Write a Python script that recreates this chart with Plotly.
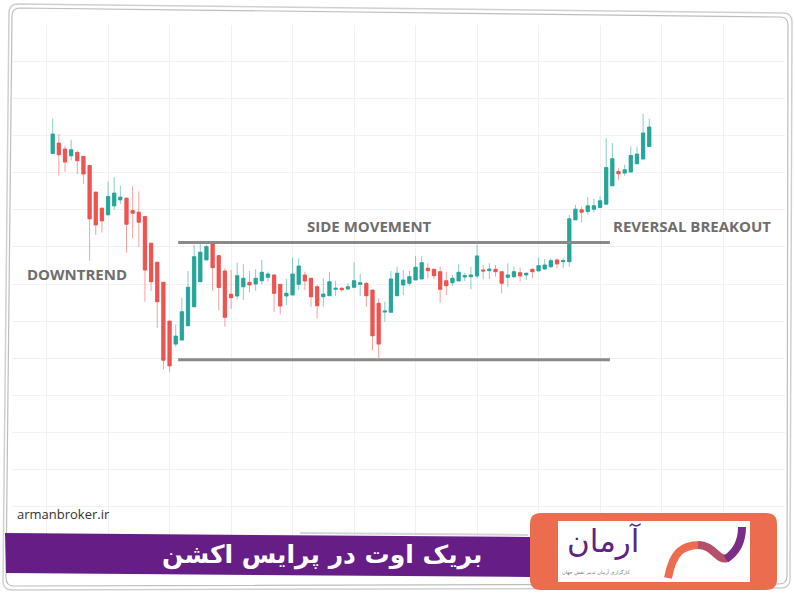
import plotly.graph_objects as go

# ---- data (price units) ----
open_ = [346.3,356.7,350.7,344,347.3,343.3,334.3,307.7,291.7,285,294,300,301.7,289.3,287.7,283.3,256.7,237.7,217.7,179,
         156,160,174.3,193.3,218.3,240,256,244.3,229,205.7,204,213.3,217.7,216,219.3,222.7,225,215.7,204,205,
         215.7,225,221.7,213.3,203.3,204.3,210.7,211.7,211,212.7,215.7,216.7,210,196.7,188,187.7,204.3,215,216.7,220,
         221,231.7,230.7,228.3,219.3,217.3,219,223,223.3,224,230,229.3,230.7,228.3,222.7,223.3,227.3,225,230.7,229,
         231,233.3,240,238.3,238.3,280,290,288.3,290.7,292.3,295.7,314,328.3,326.7,327.7,336,340.7,353.3]
high = [381,365.7,354,360,349.3,344,335,308,292,318.3,322.7,314,302,313.3,308.3,284,257,238,218,179,
        175.7,202.3,229,255,255.7,255,257.7,245,231.7,230,237.3,235.7,229,230.7,240,228.3,225.5,216,221,242.7,
        241.7,228.3,222,215,221.7,228,219.3,213.3,216.7,237.7,226,217.7,210,201.7,198.3,229,233.3,230,229,244,
        244,236.7,231,233.3,228.3,225,235.7,227,233.3,255,235,236.7,235,228.5,236.7,233.3,232.3,227.5,231.5,242.3,
        241,241.7,241.7,242,285,295,293.3,302.7,301,303.3,361.7,356.7,331.7,335,353.3,353.3,386,381]
low = [346,324.3,328,339.3,325.7,316,239.3,265,267.3,285,290,296,247.3,261.7,253.3,198.3,209,172.3,130.7,128.3,
       153.3,160,174.3,193.3,218.3,240,209.3,190,173.3,191,200.7,200,207.7,209.3,215.7,218.3,188.3,185.7,195,205,
       210,210,193.3,181.7,193.3,204,204,208.3,210,211.7,204,193.3,150,142.3,178.3,187.7,204.3,205,214.3,220,
       221,221.7,220.7,197.3,205,214,219,219,210.7,221.7,220.7,221,223.3,206.7,213.3,221.7,218.3,220,221.7,229,
       230,231.7,231.7,231.7,233.3,280,277.3,285,287.3,292.3,295.7,314,320,324,327.7,336,340.7,353.3]
close = [365.7,345,337.7,350,339,325.7,281,275,279,303.3,306.7,302.7,275.7,286.7,277.7,230,218.3,198.3,140,134.3,
         164,188.3,212.7,243.3,247.7,253.3,232.3,212.5,182.7,202.3,224.3,221.7,215,221.7,227.7,226,206.7,194,206.7,226,
         234,219,203.3,194.3,206,218.3,211.7,210.3,213.3,219.3,217.3,204.3,164.3,156,189,221,226.7,220,223.3,232.7,
         237.3,229.3,224.3,210.7,214.3,221.7,227.7,224.3,225,244,229,231,228.3,216.7,225,228.3,224,226.7,228.3,234.3,
         235,239.3,236,239.3,281,290.7,287.7,294,294,299,332.3,341,326,330,344.3,345.7,366.7,372.7]
idx = list(range(len(open_)))

labels = ["DOWNTREND", "SIDE MOVEMENT", "REVERSAL BREAKOUT"]
resistance, support = 257.3, 140.3
range_start, range_end = 20.4, 90.6
title_fa = "بریک اوت در پرایس اکشن"
brand_fa = "آرمان"
brand_sub_fa = "کارگزاری آرمان تدبیر نقش جهان"
site = "armanbroker.ir"

GREEN, RED = "#26a69a", "#ef5350"
W, H = 795, 596
L, R, T, B = 12, 785, 25, 543

def px(x):
    return (x - L) / (R - L)

def py(y):
    return (B - y) / (B - T)

def path(points, close_=True):
    s = "M " + " L ".join(f"{px(x):.5f},{py(y):.5f}" for x, y in points)
    return s + (" Z" if close_ else "")

fig = go.Figure()
# wicks (lighter)
fig.add_trace(go.Candlestick(
    x=idx, open=open_, high=high, low=low, close=close,
    increasing=dict(line=dict(color="rgba(38,166,154,0.55)", width=1), fillcolor=GREEN),
    decreasing=dict(line=dict(color="rgba(239,83,80,0.55)", width=1), fillcolor=RED),
    whiskerwidth=0, hoverinfo="skip", showlegend=False))
# bodies (solid)
fig.add_trace(go.Candlestick(
    x=idx, open=open_, close=close,
    high=[max(o, c) for o, c in zip(open_, close)],
    low=[min(o, c) for o, c in zip(open_, close)],
    increasing=dict(line=dict(color=GREEN, width=0.5), fillcolor=GREEN),
    decreasing=dict(line=dict(color=RED, width=0.5), fillcolor=RED),
    whiskerwidth=0, hoverinfo="skip", showlegend=False))

shapes = []
for lvl in (resistance, support):
    shapes.append(dict(type="line", xref="x", yref="y", x0=range_start, x1=range_end, y0=lvl, y1=lvl,
                       line=dict(color="#8a8a8a", width=3)))

def rounded(x0, y0, x1, y1, x2, y2, x3, y3, r):
    pts = [(x0 + r, y0), (x1 - r, y1), (x1, y1 + r), (x2, y2 - r), (x2 - r, y2), (x3 + r, y3), (x3, y3 - r), (x0, y0 + r)]
    c = [(x1, y1), (x2, y2), (x3, y3), (x0, y0)]
    f = lambda p: f"{px(p[0]):.5f},{py(p[1]):.5f}"
    s = f"M {f(pts[0])} L {f(pts[1])} Q {f(c[0])} {f(pts[2])} "
    s += f"L {f(pts[3])} Q {f(c[1])} {f(pts[4])} "
    s += f"L {f(pts[5])} Q {f(c[2])} {f(pts[6])} "
    s += f"L {f(pts[7])} Q {f(c[3])} {f(pts[0])} Z"
    return s

# frame (double, slightly skewed)
shapes.append(dict(type="path", xref="paper", yref="paper", layer="above",
                   path=rounded(9, 4, 792, 13, 790, 588, 3, 590, 9), line=dict(color="#d0d0d0", width=1.5)))
shapes.append(dict(type="path", xref="paper", yref="paper", layer="above",
                   path=rounded(12, 8, 788, 17, 787, 584, 6, 586, 8), line=dict(color="#bdbdbd", width=1.2)))

# purple banner
shapes.append(dict(type="path", xref="paper", yref="paper", layer="above",
                   path=path([(300, 533), (528, 535)], close_=False), line=dict(color="#d5d5d5", width=2)))
shapes.append(dict(type="path", xref="paper", yref="paper", layer="above",
                   path=path([(5, 533), (530, 537), (530, 577), (6, 573)]),
                   fillcolor="#661d86", line=dict(width=0)))
# logo box
shapes.append(dict(type="path", xref="paper", yref="paper", layer="above",
                   path=rounded(530, 513, 777, 513, 777, 590, 530, 590, 11),
                   fillcolor="#ec6c50", line=dict(width=0)))
shapes.append(dict(type="path", xref="paper", yref="paper", layer="above",
                   path=path([(558, 521), (750, 521), (750, 582), (558, 582)]),
                   fillcolor="white", line=dict(width=0)))

def curve(pts):
    (a, b), (c1, d1), (c2, d2), (e, f) = pts
    return (f"M {px(a):.5f},{py(b):.5f} C {px(c1):.5f},{py(d1):.5f} {px(c2):.5f},{py(d2):.5f} {px(e):.5f},{py(f):.5f}")

# logo mark
shapes.append(dict(type="path", xref="paper", yref="paper", layer="above",
                   path=curve([(668, 578), (673, 552), (682, 545), (700, 545)]),
                   line=dict(color="#ec6c50", width=8)))
shapes.append(dict(type="path", xref="paper", yref="paper", layer="above",
                   path=curve([(698, 545), (714, 545), (718, 562), (727, 558)]),
                   line=dict(color="#b4506a", width=8)))
shapes.append(dict(type="path", xref="paper", yref="paper", layer="above",
                   path=curve([(726, 559), (738, 551), (742, 540), (742, 527)]),
                   line=dict(color="#7a2d86", width=8)))

anns = []
lab_pos = [(77, 274), (369, 226), (692, 226)]
for t, (x, y) in zip(labels, lab_pos):
    anns.append(dict(text=t, xref="paper", yref="paper", x=px(x), y=py(y), showarrow=False,
                     xanchor="center", yanchor="middle",
                     font=dict(family="Open Sans", size=15, color="#6e6e6e", weight=700)))
anns.append(dict(text=site, xref="paper", yref="paper", x=px(15), y=py(514), showarrow=False,
                 xanchor="left", yanchor="middle", font=dict(family="Open Sans", size=13, color="#333333")))
anns.append(dict(text=title_fa, xref="paper", yref="paper", x=px(322), y=py(555), showarrow=False,
                 xanchor="center", yanchor="middle", font=dict(family="DejaVu Sans", size=25, color="white", weight=700)))
anns.append(dict(text=brand_fa, xref="paper", yref="paper", x=px(604), y=py(541), showarrow=False,
                 xanchor="center", yanchor="middle", font=dict(family="DejaVu Sans", size=31, color="#5c2483")))
anns.append(dict(text=brand_sub_fa, xref="paper", yref="paper", x=px(596), y=py(572), showarrow=False,
                 xanchor="center", yanchor="middle", font=dict(family="DejaVu Sans", size=5, color="#777777")))

x0 = (L - 52.7) / 6.15
x1 = (R - 52.7) / 6.15
fig.update_layout(
    width=W, height=H, margin=dict(l=L, r=W - R, t=T, b=H - B),
    paper_bgcolor="white", plot_bgcolor="white",
    shapes=shapes, annotations=anns, showlegend=False, boxgap=0.24,
    xaxis=dict(range=[x0, x1], tick0=-1, dtick=10, showticklabels=False, ticks="",
               gridcolor="#f1f1f1", gridwidth=1, zeroline=False, showline=False,
               rangeslider=dict(visible=False), fixedrange=True),
    yaxis=dict(range=[-42.5, 474.5], tick0=68, dtick=37, showticklabels=False, ticks="",
               gridcolor="#f1f1f1", gridwidth=1, zeroline=False, showline=False, fixedrange=True),
)
fig.write_html("out.html", config={"displayModeBar": False},
               post_script="document.body.style.margin='0';document.body.style.overflow='hidden';")
